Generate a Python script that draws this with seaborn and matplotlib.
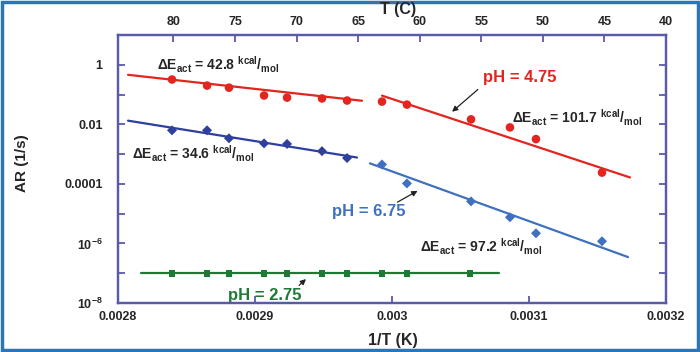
import matplotlib
matplotlib.use("Agg")
import matplotlib.pyplot as plt
import seaborn as sns
from matplotlib.patches import Rectangle
from matplotlib.ticker import FixedLocator, FixedFormatter, NullLocator

# --- data ---
inv_t_low = [0.0028394, 0.0028650, 0.0028810, 0.0029066, 0.0029234, 0.0029489, 0.0029672]
inv_t_high = [0.0029927, 0.0030109, 0.0030577, 0.0030861, 0.0031051, 0.0031533]
inv_t_green = inv_t_low + [0.0029927, 0.0030109, 0.0030569]

ar_red_low = [0.32, 0.20, 0.17, 0.093, 0.079, 0.074, 0.063]
ar_blue_low = [0.0063, 0.0063, 0.0034, 0.0023, 0.0022, 0.00126, 0.00074]
ar_red_high = [0.058, 0.046, 0.0147, 0.0079, 0.0032, 0.00024]
ar_blue_high = [4.5e-4, 1.04e-4, 2.6e-5, 7.6e-6, 2.2e-6, 1.19e-6]
ar_green = [1e-7] * 10

# fitted Arrhenius lines (end points)
fit_red_low_x, fit_red_low_y = [0.0028073, 0.0029781], [0.46, 0.062]
fit_blue_low_x, fit_blue_low_y = [0.0028073, 0.0029745], [0.0133, 7.7e-4]
fit_red_high_x, fit_red_high_y = [0.0029927, 0.0031737], [0.092, 1.65e-4]
fit_blue_high_x, fit_blue_high_y = [0.0029839, 0.0031723], [4.9e-4, 3.5e-7]
fit_green_x, fit_green_y = [0.0028168, 0.0030781], [1e-7, 1e-7]

x_ticks = [0.0028, 0.0029, 0.003, 0.0031, 0.0032]
x_labels = ["0.0028", "0.0029", "0.003", "0.0031", "0.0032"]
y_ticks = [1e-8, 1e-7, 1e-6, 1e-5, 1e-4, 1e-3, 1e-2, 1e-1, 1, 10]
y_labels = [r"10$^{-8}$", "", r"10$^{-6}$", "", "0.0001", "", "0.01", "", "1", ""]
t_ticks = [80, 75, 70, 65, 60, 55, 50, 45, 40]

RED = "#e3241f"
DARK_BLUE = "#2f3f9e"
LIGHT_BLUE = "#4070c0"
GREEN = "#1d7a35"
AXIS = "#5a5aaa"

sns.set_style("ticks")
plt.rcParams["font.family"] = ["Liberation Sans", "DejaVu Sans"]
plt.rcParams["font.weight"] = "bold"
plt.rcParams["mathtext.fontset"] = "custom"
plt.rcParams["mathtext.rm"] = "Liberation Sans:bold"
plt.rcParams["mathtext.it"] = "Liberation Sans:bold"
plt.rcParams["mathtext.bf"] = "Liberation Sans:bold"
plt.rcParams["mathtext.default"] = "rm"

fig = plt.figure(figsize=(7, 3.52), dpi=100)
ax = fig.add_axes([0.1686, 0.139, 0.9514 - 0.1686, 0.9006 - 0.139])

# fit lines
lw = 1.6
sns.lineplot(x=fit_red_low_x, y=fit_red_low_y, color=RED, lw=lw, ax=ax)
sns.lineplot(x=fit_blue_low_x, y=fit_blue_low_y, color=DARK_BLUE, lw=lw, ax=ax)
sns.lineplot(x=fit_red_high_x, y=fit_red_high_y, color=RED, lw=lw, ax=ax)
sns.lineplot(x=fit_blue_high_x, y=fit_blue_high_y, color=LIGHT_BLUE, lw=lw, ax=ax)
sns.lineplot(x=fit_green_x, y=fit_green_y, color=GREEN, lw=lw, ax=ax)

# measured points
sns.scatterplot(x=inv_t_low, y=ar_red_low, color=RED, marker="o", s=38, edgecolor="none", ax=ax)
sns.scatterplot(x=inv_t_high, y=ar_red_high, color=RED, marker="o", s=38, edgecolor="none", ax=ax)
sns.scatterplot(x=inv_t_low, y=ar_blue_low, color=DARK_BLUE, marker="D", s=26, edgecolor="none", ax=ax)
sns.scatterplot(x=inv_t_high, y=ar_blue_high, color=LIGHT_BLUE, marker="D", s=26, edgecolor="none", ax=ax)
sns.scatterplot(x=inv_t_green, y=ar_green, color=GREEN, marker="s", s=22, edgecolor="none", ax=ax)

ax.set_yscale("log")
ax.set_xlim(0.0028, 0.0032)
ax.set_ylim(1e-8, 10)
ax.xaxis.set_major_locator(FixedLocator(x_ticks))
ax.xaxis.set_major_formatter(FixedFormatter(x_labels))
ax.xaxis.set_minor_locator(NullLocator())
ax.yaxis.set_major_locator(FixedLocator(y_ticks))
ax.yaxis.set_major_formatter(FixedFormatter(y_labels))
ax.yaxis.set_minor_locator(NullLocator())
ax.tick_params(axis="both", direction="in", length=5, width=1.3, color=AXIS,
               labelsize=9, right=True)
ax.tick_params(axis="y", pad=11)
ax.tick_params(axis="x", pad=6)
for sp in ax.spines.values():
    sp.set_color(AXIS)
    sp.set_linewidth(1.6)

# top axis in degrees C
ax2 = ax.twiny()
ax2.set_xlim(84.5, 40)
ax2.xaxis.set_major_locator(FixedLocator(t_ticks))
ax2.xaxis.set_minor_locator(NullLocator())
ax2.tick_params(axis="x", direction="in", length=5, width=1.3, color=AXIS, labelsize=9, pad=5)
for sp in ax2.spines.values():
    sp.set_color(AXIS)
    sp.set_linewidth(1.6)

# annotations
ea_size = 10
ax.text(0.0028285, 1.0, r"$\Delta$E$_{\rm act}$ = 42.8 $^{\rm kcal}/_{\rm mol}$", fontsize=ea_size, va="center")
ax.text(0.0028102, 1.05e-3, r"$\Delta$E$_{\rm act}$ = 34.6 $^{\rm kcal}/_{\rm mol}$", fontsize=ea_size, va="center")
ax.text(0.0030876, 0.0168, r"$\Delta$E$_{\rm act}$ = 101.7 $^{\rm kcal}/_{\rm mol}$", fontsize=ea_size, va="center")
ax.text(0.0030204, 7.5e-7, r"$\Delta$E$_{\rm act}$ = 97.2 $^{\rm kcal}/_{\rm mol}$", fontsize=ea_size, va="center")

ax.text(0.0030664, 0.37, "pH = 4.75", color=RED, fontsize=12, va="center")
ax.text(0.0029562, 1.2e-5, "pH = 6.75", color=LIGHT_BLUE, fontsize=12, va="center")
ax.text(0.0028803, 1.85e-8, "pH = 2.75", color=GREEN, fontsize=12, va="center")

arrow = dict(arrowstyle="-|>", color="#222222", lw=0.9, mutation_scale=8)
ax.annotate("", xy=(0.0030423, 0.023), xytext=(0.0030642, 0.17), arrowprops=arrow)
ax.annotate("", xy=(0.0030204, 6.5e-5), xytext=(0.0030022, 2.2e-5), arrowprops=arrow)
ax.annotate("", xy=(0.0029387, 7.4e-8), xytext=(0.0029307, 3.4e-8), arrowprops=arrow)

fig.text(0.031, 0.537, "AR (1/s)", rotation=90, fontsize=11, ha="center", va="center")
fig.text(0.561, 0.034, "1/T (K)", fontsize=11.5, ha="center", va="center")
fig.text(0.569, 0.972, "T (C)", fontsize=11.5, ha="center", va="center")

fig.add_artist(Rectangle((0.003, 0.005), 0.994, 0.99, transform=fig.transFigure,
                         fill=False, edgecolor="#2e75b6", lw=2.5))

fig.savefig("out.png", dpi=100)
